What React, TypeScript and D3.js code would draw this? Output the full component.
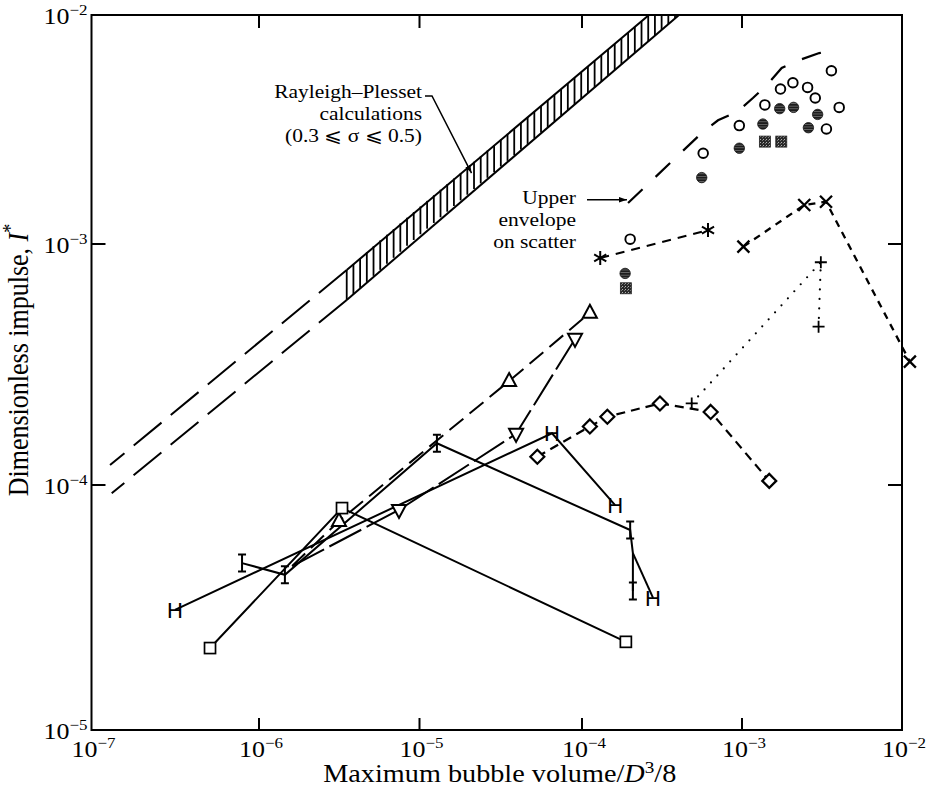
import React from 'react';
import * as d3 from 'd3';

const W = 926;
const H = 793;

// Axis decades
const xDecades = [1e-7, 1e-6, 1e-5, 1e-4, 1e-3, 1e-2];
const yDecades = [1e-5, 1e-4, 1e-3, 1e-2];
const xTickExp = ['−7', '−6', '−5', '−4', '−3', '−2'];
const yTickExp = ['−5', '−4', '−3', '−2'];

// Rayleigh–Plesset band edges: dashed start, start of hatched part, exit at top
const bandUpperV = [1.29e-7, 3.52e-6, 2.62e-4];
const bandUpperI = [1.21e-4, 7.8e-4, 1e-2];
const bandLowerV = [1.32e-7, 3.52e-6, 4.04e-4];
const bandLowerI = [9.25e-5, 5.86e-4, 1e-2];

// Upper envelope drawn over the scatter
const envelopeV = [1.94e-4, 5.62e-4, 7.08e-4, 9.3e-4, 1.17e-3, 1.43e-3, 1.77e-3, 2.29e-3, 3.04e-3, 3.99e-3];
const envelopeI = [1.51e-3, 3.06e-3, 3.47e-3, 3.77e-3, 4.34e-3, 4.95e-3, 5.87e-3, 6.36e-3, 6.82e-3, 7.1e-3];

// Scatter: open circles
const openCircleV = [3.62e-3, 1.74e-3, 2.08e-3, 2.57e-3, 2.87e-3, 1.39e-3, 4.05e-3, 9.62e-4, 3.37e-3, 5.72e-4, 2.0e-4];
const openCircleI = [5.71e-3, 4.75e-3, 5.06e-3, 4.83e-3, 4.34e-3, 4.05e-3, 3.95e-3, 3.29e-3, 3.18e-3, 2.49e-3, 1.05e-3];
// Scatter: shaded circles
const shadedCircleV = [1.72e-3, 2.1e-3, 2.97e-3, 1.35e-3, 2.6e-3, 9.62e-4, 5.6e-4, 1.86e-4];
const shadedCircleI = [3.9e-3, 3.95e-3, 3.68e-3, 3.34e-3, 3.22e-3, 2.62e-3, 1.95e-3, 7.55e-4];
// Scatter: shaded squares
const shadedSquareV = [1.39e-3, 1.76e-3, 1.88e-4];
const shadedSquareI = [2.8e-3, 2.8e-3, 6.55e-4];

// Asterisk run
const starV = [1.3e-4, 6.13e-4];
const starI = [8.75e-4, 1.15e-3];
// Cross run
const crossV = [1.02e-3, 2.45e-3, 3.35e-3, 1.12e-2];
const crossI = [9.75e-4, 1.48e-3, 1.53e-3, 3.25e-4];
// Plus run (dotted)
const plusV = [4.85e-4, 3.11e-3, 3.01e-3];
const plusI = [2.18e-4, 8.4e-4, 4.54e-4];
// Diamond run
const diamondV = [5.31e-5, 1.12e-4, 1.44e-4, 3.07e-4, 6.37e-4, 1.48e-3];
const diamondI = [1.31e-4, 1.75e-4, 1.92e-4, 2.18e-4, 2.01e-4, 1.04e-4];
// Up-triangle run (first vertex unmarked)
const triUpV = [1.61e-6, 3.15e-6, 3.56e-5, 1.12e-4];
const triUpI = [4.67e-5, 7.13e-5, 2.7e-4, 5.18e-4];
// Down-triangle run (first vertex unmarked)
const triDownV = [1.61e-6, 7.45e-6, 3.93e-5, 9.06e-5];
const triDownI = [4.67e-5, 7.91e-5, 1.63e-4, 4.04e-4];
// Open-square run
const squareV = [5.1e-7, 3.29e-6, 1.88e-4];
const squareI = [2.16e-5, 8.05e-5, 2.29e-5];
// H run
const runHV = [3.15e-7, 6.54e-5, 1.61e-4];
const runHI = [3.09e-5, 1.64e-4, 8.28e-5];
// I run (the fifth vertex carries no symbol)
const runIV = [7.92e-7, 1.45e-6, 1.28e-5, 2.0e-4, 2.08e-4, 2.08e-4];
const runII = [4.8e-5, 4.3e-5, 1.49e-4, 6.55e-5, 5.27e-5, 3.69e-5];
const runIMarked = [0, 1, 2, 3, 5];
// Branch from the I run to the last H
const runH2V = [2.08e-4, 2.78e-4];
const runH2I = [5.27e-5, 3.46e-5];

// Annotation arrow tips (data coordinates)
const rpArrowTip: [number, number] = [2.09e-5, 2.04e-3];
const envArrowTip: [number, number] = [1.91e-4, 1.56e-3];

const serif = "'Liberation Serif','Times New Roman',serif";
const sans = "'Liberation Sans',Arial,sans-serif";
const STRETCH = 1.13;

const x = d3.scaleLog().domain(xDecades).range([91.5, 259, 419.5, 582, 742, 902]);
const y = d3.scaleLog().domain(yDecades).range([730, 485, 244, 15]);

const zip = (vs: number[], is: number[]) => vs.map((v, i) => [v, is[i]] as [number, number]);
const line = d3.line<[number, number]>().x(d => x(d[0])).y(d => y(d[1]));

function logInterp(vs: number[], is: number[], v: number) {
  const lv = Math.log10(v);
  for (let i = 0; i < vs.length - 1; i++) {
    const a = Math.log10(vs[i]);
    const b = Math.log10(vs[i + 1]);
    if (lv <= b || i === vs.length - 2) {
      const t = (lv - a) / (b - a);
      return Math.pow(10, Math.log10(is[i]) + t * (Math.log10(is[i + 1]) - Math.log10(is[i])));
    }
  }
  return is[is.length - 1];
}

function Sym({ type, cx, cy }: { type: string; cx: number; cy: number }) {
  const k = { stroke: '#000', strokeWidth: 2, fill: 'white' };
  switch (type) {
    case 'circle':
      return <circle cx={cx} cy={cy} r={4.8} {...k} strokeWidth={1.9} />;
    case 'shadedCircle':
      return <circle cx={cx} cy={cy} r={5.2} fill="url(#shadeC)" stroke="#111" strokeWidth={0.8} />;
    case 'shadedSquare':
      return <rect x={cx - 5.5} y={cy - 5.5} width={11} height={11} fill="url(#shadeS)" stroke="#222" strokeWidth={0.8} />;
    case 'square':
      return <rect x={cx - 5.5} y={cy - 5.5} width={11} height={11} {...k} strokeWidth={1.7} />;
    case 'triUp':
      return <polygon points={`${cx},${cy - 8} ${cx + 7},${cy + 5} ${cx - 7},${cy + 5}`} {...k} />;
    case 'triDown':
      return <polygon points={`${cx},${cy + 8} ${cx + 7},${cy - 5} ${cx - 7},${cy - 5}`} {...k} />;
    case 'diamond':
      return <polygon points={`${cx},${cy - 7} ${cx + 7},${cy} ${cx},${cy + 7} ${cx - 7},${cy}`} {...k} strokeWidth={2.2} />;
    case 'H':
      return (
        <text x={cx} y={cy + 7.9} textAnchor="middle" fontFamily={sans} fontSize={22}>H</text>
      );
    case 'I':
      return <path d={`M${cx},${cy - 8.5}V${cy + 8.5}M${cx - 4},${cy - 8.5}H${cx + 4}M${cx - 4},${cy + 8.5}H${cx + 4}`} stroke="#000" strokeWidth={2} fill="none" />;
    case 'star': {
      const r = 7;
      const d = [90, 30, 150].map(a => {
        const t = (a * Math.PI) / 180;
        return `M${cx - r * Math.cos(t)},${cy - r * Math.sin(t)}L${cx + r * Math.cos(t)},${cy + r * Math.sin(t)}`;
      }).join('');
      return <path d={d} stroke="#000" strokeWidth={2} fill="none" />;
    }
    case 'cross':
      return <path d={`M${cx - 6},${cy - 6}L${cx + 6},${cy + 6}M${cx + 6},${cy - 6}L${cx - 6},${cy + 6}`} stroke="#000" strokeWidth={2.3} fill="none" />;
    case 'plus':
      return <path d={`M${cx - 6},${cy}H${cx + 6}M${cx},${cy - 6}V${cy + 6}`} stroke="#000" strokeWidth={1.8} fill="none" />;
    default:
      return null;
  }
}

function Pow({ cx, cy, exp, anchor }: { cx: number; cy: number; exp: string; anchor: 'middle' | 'end' }) {
  return (
    <text transform={`translate(${cx},${cy}) scale(${STRETCH},1)`} textAnchor={anchor} fontFamily={serif} fontSize={23}>
      10<tspan dy={-9} fontSize={15}>{exp}</tspan>
    </text>
  );
}

export default function App() {
  const left = x(1e-7);
  const right = x(1e-2);
  const top = y(1e-2);
  const bottom = y(1e-5);

  // Hatch strokes across the band
  const hatchStart = x(bandUpperV[1]);
  const hatchEnd = x(bandLowerV[2]);
  const hatches: { hx: number; y1: number; y2: number }[] = [];
  for (let hx = hatchStart; hx <= hatchEnd - 1; hx += 6.7) {
    const v = x.invert(hx);
    const yu = Math.max(top, y(Math.min(1e-2, logInterp(bandUpperV, bandUpperI, v))));
    const yl = y(Math.min(1e-2, logInterp(bandLowerV, bandLowerI, v)));
    hatches.push({ hx, y1: yu, y2: yl });
  }

  const bandDash = (vs: number[], is: number[]) => line([[vs[1], is[1]], [vs[0], is[0]]]);
  const bandSolid = (vs: number[], is: number[]) => line([[vs[1], is[1]], [vs[2], is[2]]]);

  const markers = (vs: number[], is: number[], type: string, idx?: number[]) =>
    (idx ?? vs.map((_, i) => i)).map(i => <Sym key={type + i} type={type} cx={x(vs[i])} cy={y(is[i])} />);

  const rpTip = [x(rpArrowTip[0]), y(rpArrowTip[1])];
  const envTip = [x(envArrowTip[0]), y(envArrowTip[1])];

  return (
    <svg width={W} height={H} style={{ position: 'absolute', left: 0, top: 0, background: 'white' }}>
      <defs>
        <pattern id="shadeC" width="3" height="2.6" patternUnits="userSpaceOnUse">
          <rect width="3" height="2.6" fill="#1c1c1c" />
          <rect y="1.8" width="3" height="0.6" fill="#8a8a8a" />
        </pattern>
        <pattern id="shadeS" width="3" height="3" patternUnits="userSpaceOnUse">
          <rect width="3" height="3" fill="#2a2a2a" />
          <rect x="1" y="1" width="1" height="1" fill="#b0b0b0" />
          <rect x="0" y="2" width="1" height="1" fill="#777" />
        </pattern>
        <marker id="arrow" viewBox="0 0 10 10" refX="10" refY="5" markerWidth="8" markerHeight="8" markerUnits="userSpaceOnUse" orient="auto">
          <path d="M0,1.5L10,5L0,8.5Z" fill="#000" />
        </marker>
      </defs>
      <rect width={W} height={H} fill="white" />

      {/* frame and ticks */}
      <rect x={left} y={top} width={right - left} height={bottom - top} fill="none" stroke="#000" strokeWidth={2} />
      {xDecades.slice(1, -1).map(v => (
        <g key={'xt' + v}>
          <line x1={x(v)} x2={x(v)} y1={bottom} y2={bottom - 12} stroke="#000" strokeWidth={2} />
          <line x1={x(v)} x2={x(v)} y1={top} y2={top + 13} stroke="#000" strokeWidth={2} />
        </g>
      ))}
      {yDecades.slice(1, -1).map(v => (
        <g key={'yt' + v}>
          <line x1={left} x2={left + 14} y1={y(v)} y2={y(v)} stroke="#000" strokeWidth={2} />
          <line x1={right} x2={right - 14} y1={y(v)} y2={y(v)} stroke="#000" strokeWidth={2} />
        </g>
      ))}
      {xDecades.map((v, i) => (
        <Pow key={'xl' + v} cx={x(v) + 2} cy={757} exp={xTickExp[i]} anchor="middle" />
      ))}
      {yDecades.map((v, i) => (
        <Pow key={'yl' + v} cx={left - 4} cy={y(v) + 9} exp={yTickExp[i]} anchor="end" />
      ))}

      {/* axis titles */}
      <text transform={`translate(${(left + right) / 2 + 3},782) scale(${STRETCH},1)`} textAnchor="middle" fontFamily={serif} fontSize={25}>
        Maximum bubble volume/<tspan fontStyle="italic">D</tspan><tspan dy={-9} fontSize={17}>3</tspan><tspan dy={9}>/8</tspan>
      </text>
      <text transform={`translate(28,360) scale(${STRETCH},1) rotate(-90)`} textAnchor="middle" fontFamily={serif} fontSize={26}>
        Dimensionless impulse, <tspan fontStyle="italic">I</tspan><tspan dy={-10} fontSize={18}>*</tspan>
      </text>

      {/* Rayleigh–Plesset band */}
      <g stroke="#000" strokeWidth={2} fill="none">
        <path d={bandDash(bandUpperV, bandUpperI) ?? ''} strokeDasharray="36 12" />
        <path d={bandDash(bandLowerV, bandLowerI) ?? ''} strokeDasharray="36 12" />
        <path d={bandSolid(bandUpperV, bandUpperI) ?? ''} />
        <path d={bandSolid(bandLowerV, bandLowerI) ?? ''} />
        {hatches.map((h, i) => (
          <line key={'h' + i} x1={h.hx} x2={h.hx} y1={h.y1} y2={h.y2} strokeWidth={1.8} />
        ))}
      </g>

      {/* upper envelope */}
      <path d={line(zip(envelopeV, envelopeI)) ?? ''} fill="none" stroke="#000" strokeWidth={2.2} strokeDasharray="20 18" />

      {/* connecting lines */}
      <g fill="none" stroke="#000">
        <path d={line(zip(starV, starI)) ?? ''} strokeWidth={2} strokeDasharray="9 7" />
        <path d={line(zip(crossV, crossI)) ?? ''} strokeWidth={2.3} strokeDasharray="7 6" />
        <path d={line(zip(plusV, plusI)) ?? ''} strokeWidth={2.2} strokeDasharray="0 9.5" strokeLinecap="round" />
        <path d={line(zip(diamondV, diamondI)) ?? ''} strokeWidth={2.2} strokeDasharray="9 6" />
        <path d={line(zip(triUpV, triUpI)) ?? ''} strokeWidth={2} strokeDasharray="18 8" />
        <path d={line(zip(triDownV, triDownI)) ?? ''} strokeWidth={2} strokeDasharray="36 6" />
        <path d={line(zip(squareV, squareI)) ?? ''} strokeWidth={2} />
        <path d={line(zip(runHV, runHI)) ?? ''} strokeWidth={2} />
        <path d={line(zip(runIV, runII)) ?? ''} strokeWidth={2} />
        <path d={line(zip(runH2V, runH2I)) ?? ''} strokeWidth={2} />
      </g>

      {/* symbols */}
      {markers(openCircleV, openCircleI, 'circle')}
      {markers(shadedCircleV, shadedCircleI, 'shadedCircle')}
      {markers(shadedSquareV, shadedSquareI, 'shadedSquare')}
      {markers(starV, starI, 'star')}
      {markers(crossV, crossI, 'cross')}
      {markers(plusV, plusI, 'plus')}
      {markers(diamondV, diamondI, 'diamond')}
      {markers(triUpV, triUpI, 'triUp', [1, 2, 3])}
      {markers(triDownV, triDownI, 'triDown', [1, 2, 3])}
      {markers(squareV, squareI, 'square')}
      {markers(runHV, runHI, 'H')}
      {markers(runIV, runII, 'I', runIMarked)}
      {markers(runH2V, runH2I, 'H', [1])}

      {/* annotations */}
      <g fontFamily={serif} fontSize={19}>
        <text transform={`translate(422,98) scale(${STRETCH},1)`} textAnchor="end">Rayleigh–Plesset</text>
        <text transform={`translate(422,120) scale(${STRETCH},1)`} textAnchor="end">calculations</text>
        <text transform={`translate(422,142) scale(${STRETCH},1)`} textAnchor="end">(0.3 ⩽ σ ⩽ 0.5)</text>
        <text transform={`translate(576,204) scale(${STRETCH},1)`} textAnchor="end">Upper</text>
        <text transform={`translate(576,226) scale(${STRETCH},1)`} textAnchor="end">envelope</text>
        <text transform={`translate(576,248) scale(${STRETCH},1)`} textAnchor="end">on scatter</text>
      </g>
      <path d={`M425,96H432L${rpTip[0]},${rpTip[1]}`} fill="none" stroke="#000" strokeWidth={1.5} markerEnd="url(#arrow)" />
      <path d={`M587,${envTip[1]}L${envTip[0]},${envTip[1]}`} fill="none" stroke="#000" strokeWidth={1.5} markerEnd="url(#arrow)" />
    </svg>
  );
}
